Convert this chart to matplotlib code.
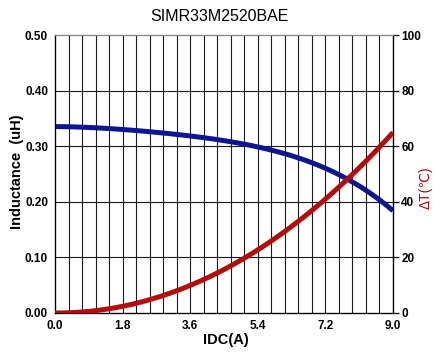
import matplotlib
matplotlib.use("Agg")
import matplotlib.pyplot as plt
import numpy as np

# data
idc = [0.0, 0.9, 1.8, 2.7, 3.6, 4.5, 5.4, 6.3, 7.2, 8.1, 9.0]
inductance = [0.335, 0.334, 0.331, 0.325, 0.317, 0.309, 0.300, 0.284, 0.261, 0.226, 0.185]
delta_t = [0.0, 0.5, 2.5, 5.5, 10.0, 15.5, 22.5, 31.5, 41.0, 52.0, 65.0]

xticks = [0.0, 1.8, 3.6, 5.4, 7.2, 9.0]
yticks_l = [0.0, 0.1, 0.2, 0.3, 0.4, 0.5]
yticks_r = [0, 20, 40, 60, 80, 100]

blue = "#0d1690"
red = "#b30c0c"
tickfont = {"family": ["Liberation Sans Narrow", "Liberation Sans", "DejaVu Sans"], "weight": "bold", "size": 8.5}

fig = plt.figure(figsize=(4.35, 3.58), dpi=100)
ax = fig.add_axes([0.1264, 0.1257, 0.777, 0.7765])
ax2 = ax.twinx()

# grid: vertical every 0.36 A, horizontal every 0.1 uH
for xv in np.arange(0.36, 9.0, 0.36):
    ax.axvline(xv, color="#1a1a1a", linewidth=0.8, zorder=1)
for yv in [0.1, 0.2, 0.3, 0.4]:
    ax.axhline(yv, color="#1a1a1a", linewidth=0.8, zorder=1)

# smooth curves through the read points
xs = np.linspace(0, 9, 200)
ind_s = np.polyval(np.polyfit(idc, inductance, 4), xs)
dt_s = np.polyval(np.polyfit(idc, delta_t, 4), xs)
ax.plot(xs, ind_s, color=blue, linewidth=3.6, zorder=3, solid_capstyle="butt")
ax2.plot(xs, np.clip(dt_s, 0, None), color=red, linewidth=3.6, zorder=3, solid_capstyle="butt")

ax.set_xlim(0, 9)
ax.set_ylim(0, 0.5)
ax2.set_ylim(0, 100)
ax.set_xticks(xticks)
ax.set_xticklabels(["%.1f" % v for v in xticks], fontdict=tickfont)
ax.set_yticks(yticks_l)
ax.set_yticklabels(["%.2f" % v for v in yticks_l], fontdict=tickfont)
ax2.set_yticks(yticks_r)
ax2.set_yticklabels([str(v) for v in yticks_r], fontdict=tickfont)
ax.tick_params(axis="both", length=0, pad=5)
ax2.tick_params(axis="y", length=4, width=0.9, direction="out", pad=2)

for sp in ax.spines.values():
    sp.set_linewidth(0.9)
ax.spines["top"].set_color("#888888")
ax2.spines["top"].set_color("#888888")

fig.text(0.505, 0.955, "SIMR33M2520BAE", ha="center", va="center",
         fontsize=11.5, family="Liberation Sans")
fig.text(0.52, 0.05, "IDC(A)", ha="center", va="center", fontsize=10.5,
         weight="bold", family=["Liberation Sans Narrow", "Liberation Sans"])
fig.text(0.04, 0.52, "Inductance  (uH)", ha="center", va="center", rotation=90,
         fontsize=10.5, weight="bold", family="Liberation Sans")
fig.text(0.978, 0.475, "ΔT(℃)", ha="center", va="center", rotation=90,
         fontsize=10, color=red, family=["Liberation Sans", "DejaVu Sans", "Noto Sans CJK SC"])

fig.savefig("out.png", dpi=100)
